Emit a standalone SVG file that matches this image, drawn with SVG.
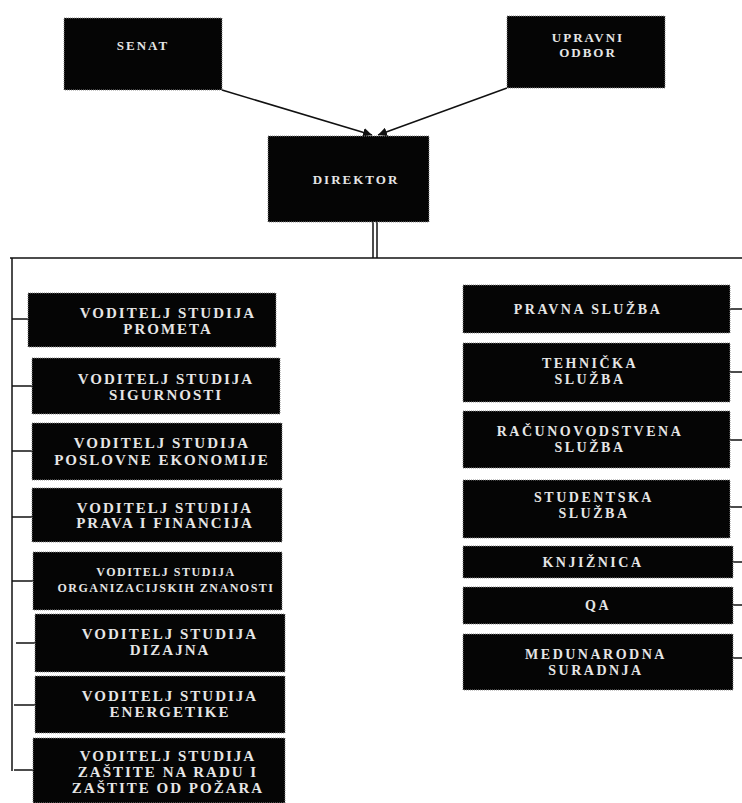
<svg xmlns="http://www.w3.org/2000/svg" width="742" height="803" viewBox="0 0 742 803">
<defs>
<style>
.box{fill:#050505;stroke:#8a8a8a;stroke-width:1;stroke-dasharray:1 1}
.t{font-family:"Liberation Serif","Times New Roman",serif;font-weight:bold;fill:#e6e6e6;text-anchor:middle}
.s{font-size:15px;letter-spacing:2px}
.m{font-size:13px;letter-spacing:2px}
.r{font-size:14px;letter-spacing:2.5px}
.ln{stroke:#111;stroke-width:1.5;fill:none}
</style>
<marker id="ah" viewBox="0 0 10 10" refX="10" refY="5" markerWidth="9" markerHeight="9" orient="auto" markerUnits="userSpaceOnUse">
<path d="M0,0 L10,5 L0,10 z" fill="#111"/>
</marker>
</defs>
<rect width="742" height="803" fill="#fff"/>
<g id="connectors">
<line class="ln" x1="222" y1="90" x2="372" y2="135" marker-end="url(#ah)"/>
<line class="ln" x1="507" y1="88" x2="378" y2="135" marker-end="url(#ah)"/>
<line class="ln" x1="373" y1="222" x2="373" y2="258"/>
<line class="ln" x1="377" y1="222" x2="377" y2="258"/>
<line class="ln" x1="10" y1="258" x2="742" y2="258"/>
<line class="ln" x1="12" y1="258" x2="12" y2="771"/>
<line class="ln" x1="12" y1="319" x2="28" y2="319"/>
<line class="ln" x1="12" y1="386" x2="32" y2="386"/>
<line class="ln" x1="12" y1="451" x2="32" y2="451"/>
<line class="ln" x1="12" y1="517" x2="32" y2="517"/>
<line class="ln" x1="12" y1="581" x2="33" y2="581"/>
<line class="ln" x1="16" y1="643" x2="35" y2="643"/>
<line class="ln" x1="14" y1="705" x2="35" y2="705"/>
<line class="ln" x1="14" y1="770" x2="33" y2="770"/>
<line class="ln" x1="730" y1="309" x2="742" y2="309"/>
<line class="ln" x1="730" y1="372" x2="742" y2="372"/>
<line class="ln" x1="730" y1="440" x2="742" y2="440"/>
<line class="ln" x1="730" y1="507" x2="742" y2="507"/>
<line class="ln" x1="733" y1="562" x2="742" y2="562"/>
<line class="ln" x1="733" y1="605" x2="742" y2="605"/>
<line class="ln" x1="733" y1="658" x2="742" y2="658"/>
</g>
<g id="senat"><rect class="box" x="64" y="18" width="158" height="72"/><text class="t m" x="143" y="50">SENAT</text></g>
<g id="upravni-odbor"><rect class="box" x="507" y="16" width="158" height="72"/><text class="t m" x="588" y="42">UPRAVNI</text><text class="t m" x="588" y="57">ODBOR</text></g>
<g id="direktor"><rect class="box" x="268" y="136" width="161" height="86"/><text class="t m" x="356" y="184">DIREKTOR</text></g>
<g id="vs-prometa"><rect class="box" x="28" y="293" width="248" height="54"/><text class="t s" x="168" y="318">VODITELJ STUDIJA</text><text class="t s" x="168" y="334">PROMETA</text></g>
<g id="vs-sigurnosti"><rect class="box" x="32" y="358" width="248" height="56"/><text class="t s" x="166" y="384">VODITELJ STUDIJA</text><text class="t s" x="166" y="400">SIGURNOSTI</text></g>
<g id="vs-poslovne"><rect class="box" x="32" y="423" width="250" height="57"/><text class="t s" x="162" y="448">VODITELJ STUDIJA</text><text class="t s" x="162" y="465">POSLOVNE EKONOMIJE</text></g>
<g id="vs-prava"><rect class="box" x="32" y="488" width="250" height="54"/><text class="t s" x="165" y="513">VODITELJ STUDIJA</text><text class="t s" x="165" y="528">PRAVA I FINANCIJA</text></g>
<g id="vs-organizacijskih"><rect class="box" x="33" y="552" width="249" height="58"/><text class="t" font-size="12" letter-spacing="1.5" x="166" y="576">VODITELJ STUDIJA</text><text class="t" font-size="12" letter-spacing="1.5" x="166" y="592">ORGANIZACIJSKIH ZNANOSTI</text></g>
<g id="vs-dizajna"><rect class="box" x="35" y="614" width="250" height="58"/><text class="t s" x="170" y="639">VODITELJ STUDIJA</text><text class="t s" x="170" y="655">DIZAJNA</text></g>
<g id="vs-energetike"><rect class="box" x="35" y="676" width="250" height="57"/><text class="t s" x="170" y="701">VODITELJ STUDIJA</text><text class="t s" x="170" y="717">ENERGETIKE</text></g>
<g id="vs-zastite"><rect class="box" x="33" y="738" width="252" height="65"/><text class="t s" x="168" y="761">VODITELJ STUDIJA</text><text class="t s" x="168" y="777">ZAŠTITE NA RADU I</text><text class="t s" x="168" y="793">ZAŠTITE OD POŽARA</text></g>
<g id="pravna"><rect class="box" x="463" y="285" width="267" height="48"/><text class="t r" x="588" y="314">PRAVNA SLUŽBA</text></g>
<g id="tehnicka"><rect class="box" x="463" y="343" width="267" height="59"/><text class="t r" x="590" y="368">TEHNIČKA</text><text class="t r" x="590" y="384">SLUŽBA</text></g>
<g id="racunovodstvena"><rect class="box" x="463" y="411" width="267" height="57"/><text class="t r" x="590" y="436">RAČUNOVODSTVENA</text><text class="t r" x="590" y="452">SLUŽBA</text></g>
<g id="studentska"><rect class="box" x="463" y="480" width="267" height="58"/><text class="t r" x="594" y="502">STUDENTSKA</text><text class="t r" x="594" y="518">SLUŽBA</text></g>
<g id="knjiznica"><rect class="box" x="463" y="546" width="270" height="32"/><text class="t r" x="593" y="567">KNJIŽNICA</text></g>
<g id="qa"><rect class="box" x="463" y="587" width="270" height="37"/><text class="t r" x="598" y="610">QA</text></g>
<g id="medunarodna"><rect class="box" x="463" y="634" width="270" height="56"/><text class="t r" x="596" y="659">MEDUNARODNA</text><text class="t r" x="596" y="675">SURADNJA</text></g>
</svg>
